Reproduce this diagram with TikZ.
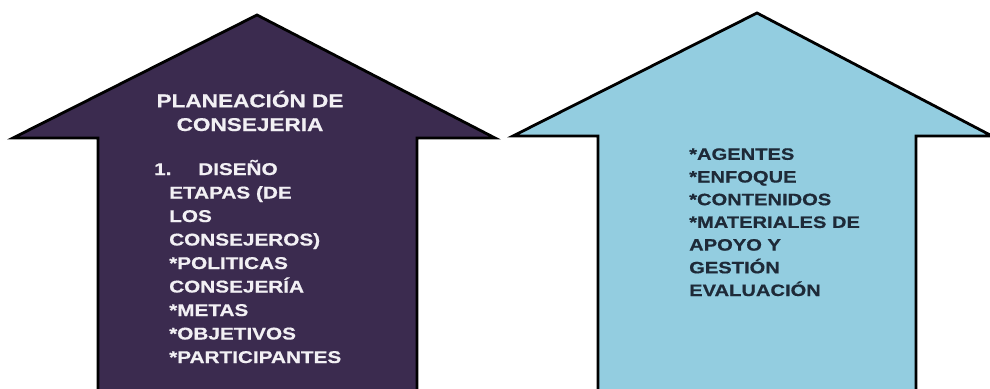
\documentclass[tikz,border=0pt]{standalone}
\usepackage{fontspec}
\newfontfamily\arrowfont[FakeStretch=1.22, BoldFeatures={FakeBold=0.6}]{Liberation Sans}
\definecolor{darkplum}{HTML}{3B2B4F}
\definecolor{skyfill}{HTML}{93CDE0}
\definecolor{navytext}{HTML}{1E2A38}
\definecolor{paletext}{HTML}{F2F0F4}
\tikzset{
  arrowshape/.style={draw=black, line width=2.8pt, line join=miter},
  titletext/.style={inner sep=0pt, align=center, text=paletext, font=\arrowfont\bfseries\fontsize{18.5}{23.8}\selectfont},
  listtext/.style={inner sep=0pt, align=left, font=\arrowfont\bfseries\fontsize{17}{23.5}\selectfont},
}
\begin{document}
\begin{tikzpicture}[x=1pt,y=-1pt]
\useasboundingbox (0,0) rectangle (990,388);
\begin{scope}
\clip (0,0) rectangle (990,388);
% left arrow
\draw[arrowshape, fill=darkplum] (98,400) -- (98,138) -- (13,138) -- (257,15) -- (495,138) -- (417,138) -- (417,400) -- cycle;
% right arrow
\draw[arrowshape, fill=skyfill] (598,400) -- (598,136) -- (513,136) -- (757,13) -- (992,136) -- (916,136) -- (916,400) -- cycle;
\end{scope}
% anchor=base refers to the baseline of the last line
\node[titletext, anchor=base] (title) at (250,131) {PLANEACIÓN DE\\CONSEJERIA};
\node[listtext, text=paletext, anchor=base west] (leftlist) at (169,363)
  {\hspace*{-15pt}\makebox[44pt][l]{1.}DISEÑO\\
   ETAPAS (DE\\
   LOS\\
   CONSEJEROS)\\
   *POLITICAS\\
   CONSEJERÍA\\
   *METAS\\
   *OBJETIVOS\\
   *PARTICIPANTES};
\node[listtext, text=navytext, anchor=base west, font=\arrowfont\bfseries\fontsize{16.5}{22.7}\selectfont] (rightlist) at (689,296)
  {*AGENTES\\
   *ENFOQUE\\
   *CONTENIDOS\\
   *MATERIALES DE\\
   APOYO Y\\
   GESTIÓN\\
   EVALUACIÓN};
\end{tikzpicture}
\end{document}
